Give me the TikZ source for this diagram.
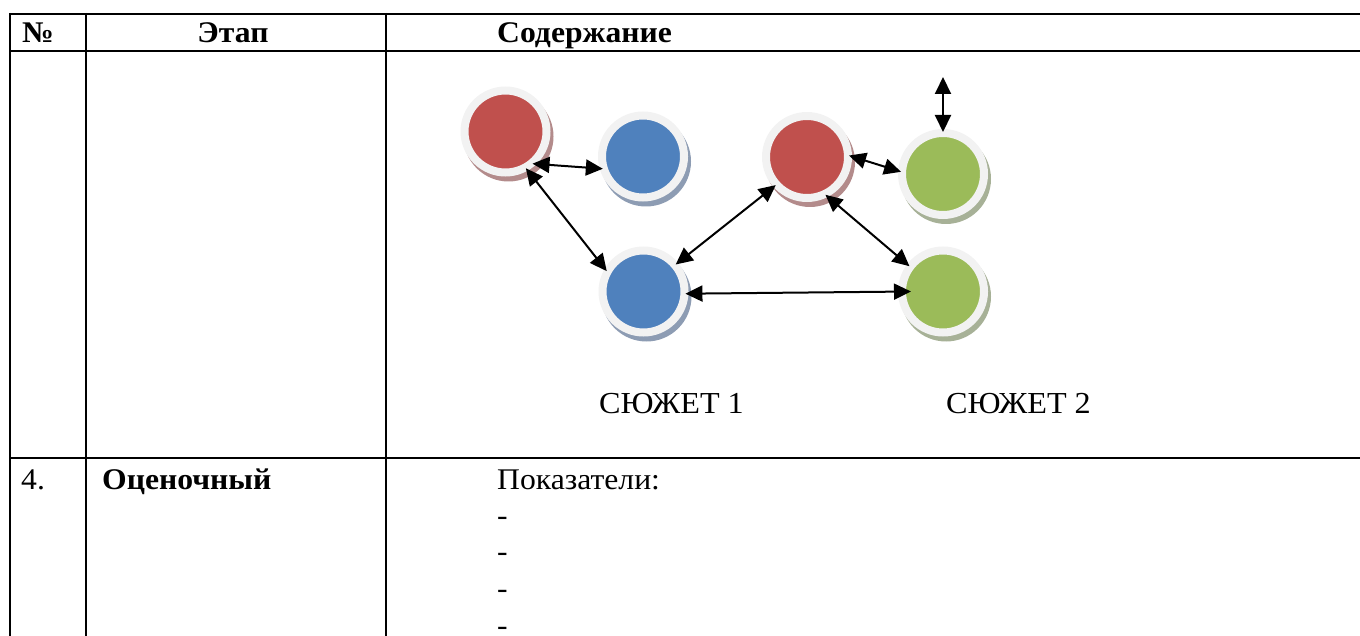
\documentclass[tikz,border=0pt]{standalone}
\usepackage{fontspec}
\setmainfont{Liberation Serif}[FakeStretch=1.055]
\usetikzlibrary{arrows.meta,calc}
\definecolor{cred}{HTML}{C0504D}
\definecolor{cblue}{HTML}{4F81BD}
\definecolor{cgreen}{HTML}{9BBB59}
\definecolor{sred}{HTML}{B38B8B}
\definecolor{sblue}{HTML}{8D9CB3}
\definecolor{sgreen}{HTML}{A7B197}
\definecolor{ring}{HTML}{F2F2F2}
\begin{document}
\begin{tikzpicture}[x=1pt,y=-1pt,
  ball/.style={circle,minimum size=82pt,inner sep=0pt,outer sep=1pt,draw=ring,line width=8pt,fill=#1},
  shad/.style={fill=#1},
  rule/.style={line width=2pt},
  conn/.style={line width=2pt,{Triangle[length=17pt,width=16pt]}-{Triangle[length=17pt,width=16pt]}},
  txt/.style={font=\fontsize{30}{34}\selectfont,inner sep=0pt,anchor=base west},
  head/.style={font=\fontsize{30}{34}\selectfont\bfseries,inner sep=0pt,anchor=base}]
\useasboundingbox (0,0) rectangle (1360,636);
% table
\draw[rule] (9.5,14) -- (1360,14);
\draw[rule] (9.5,51.5) -- (1360,51.5);
\draw[rule] (9.5,458) -- (1360,458);
\draw[rule] (9.5,13) -- (9.5,636);
\draw[rule] (86,13) -- (86,636);
\draw[rule] (386,13) -- (386,636);
% header
\node[head] (hno) at (38,43) {№};
\node[head] (hst) at (233,43) {Этап};
\node[head,anchor=base west] (hco) at (497,43) {Содержание};
% row 4
\node[txt] (n4) at (21,489) {4.};
\node[txt,font=\fontsize{30}{34}\selectfont\bfseries] (st4) at (102,489) {Оценочный};
\node[txt] (pk) at (497,489) {Показатели:};
\node[txt] (d1) at (497,525) {-};
\node[txt] (d2) at (497,561) {-};
\node[txt] (d3) at (497,598) {-};
\node[txt] (d4) at (497,635) {-};
% labels
\node[txt,font=\fontsize{30.5}{34}\selectfont] (s1) at (599,413) {СЮЖЕТ 1};
\node[txt,font=\fontsize{30.5}{34}\selectfont] (s2) at (946,413) {СЮЖЕТ 2};
% circle centres
\coordinate (cr1) at (505.5,131.5);
\coordinate (cb1) at (643,156.5);
\coordinate (cr2) at (807,157);
\coordinate (cg1) at (943,174);
\coordinate (cg2) at (943,291.5);
\coordinate (cb2) at (643.5,291.5);
% shadows
\fill[shad=sred] ($(cr1)+(3,5)$) circle (45);
\fill[shad=sblue] ($(cb1)+(3,5)$) circle (45);
\fill[shad=sred] ($(cr2)+(3,5)$) circle (45);
\fill[shad=sgreen] ($(cg1)+(3,5)$) circle (45);
\fill[shad=sgreen] ($(cg2)+(3,5)$) circle (45);
\fill[shad=sblue] ($(cb2)+(3,5)$) circle (45);
% balls
\node[ball=cred] (r1) at (cr1) {};
\node[ball=cblue] (b1) at (cb1) {};
\node[ball=cred] (r2) at (cr2) {};
\node[ball=cgreen] (g1) at (cg1) {};
\node[ball=cgreen] (g2) at (cg2) {};
\node[ball=cblue] (b2) at (cb2) {};
\coordinate (top) at (943,77);
% connectors
\draw[conn] (r1.-50) -- (b1.197);
\draw[conn] (r1.-61) -- (b2.151);
\draw[conn] (b2.40) -- (r2.-138);
\draw[conn] (r2.2) -- (g1.177);
\draw[conn] (r2.-64) -- (g2.143);
\draw[conn] (b2.-3) -- ($(g2.west)+(10,0)$);
\draw[conn] (top) -- (g1.north);
\end{tikzpicture}
\end{document}
